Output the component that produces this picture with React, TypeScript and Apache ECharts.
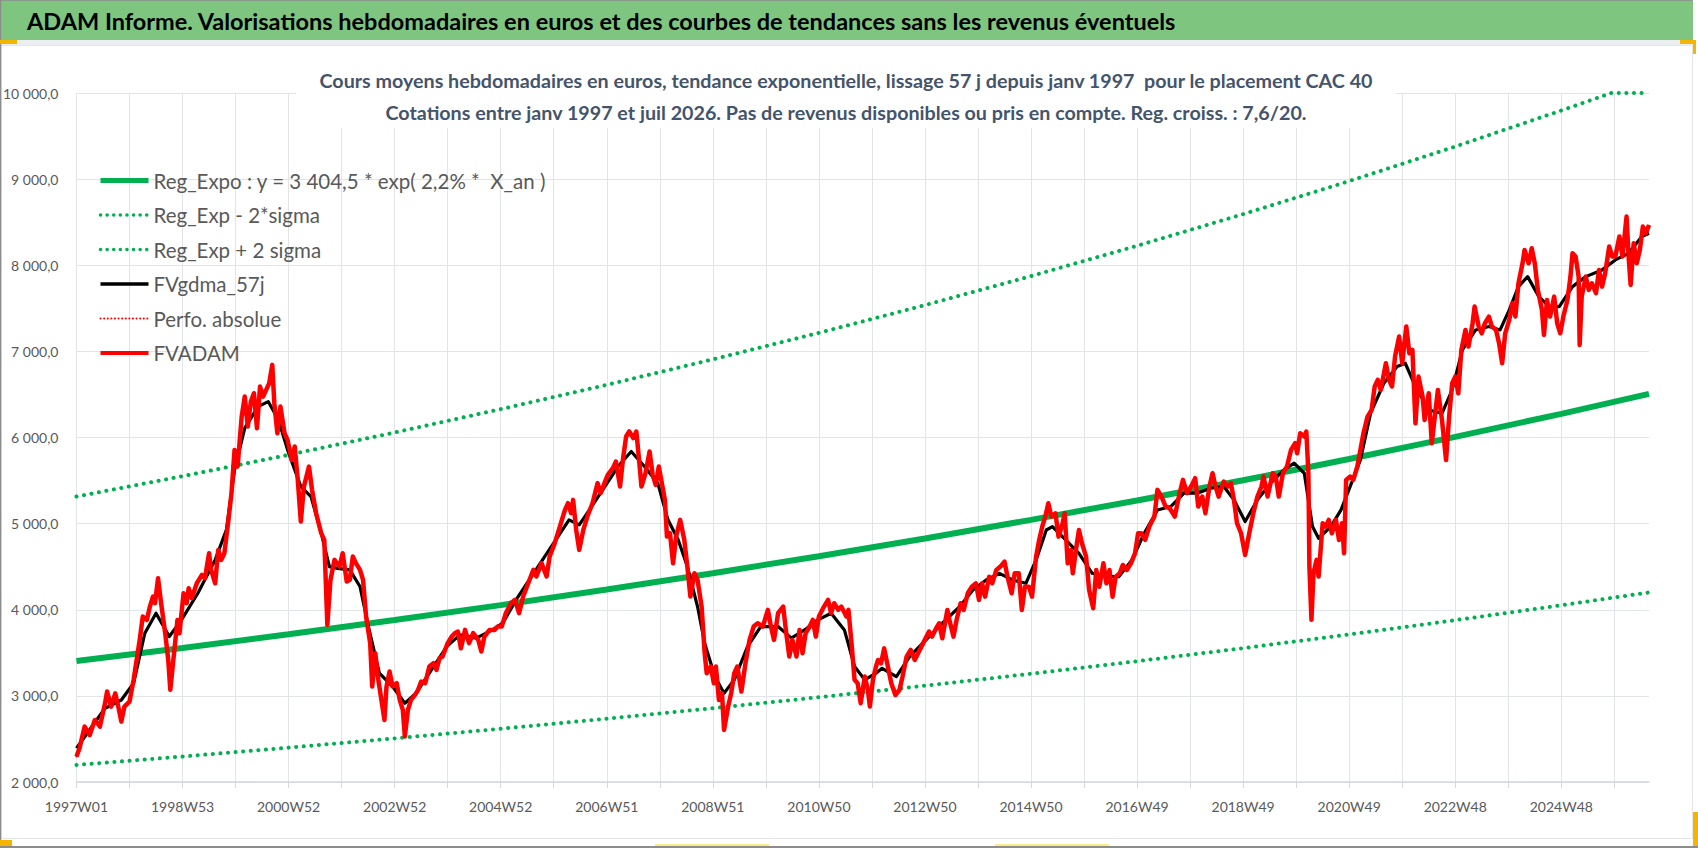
import React, { useEffect, useRef } from "react";
import * as echarts from "echarts";

// week index (0 = 1997W01) and value
const fvadam: [number, number][] = [
  [0, 2295], [3, 2392], [8, 2643], [13, 2546], [18, 2720], [23, 2643], [28, 2914], [30, 3050], [34, 2875], [38, 3030],
  [41, 2875], [44, 2701], [47, 2875], [52, 2933], [56, 3185], [59, 3418], [62, 3650], [65, 3921], [69, 3882], [72, 4037],
  [75, 4153], [77, 4076], [80, 4366], [83, 4076], [87, 3727], [90, 3418], [92, 3070], [96, 3534], [99, 3882], [101, 3727],
  [105, 4192], [108, 4076], [110, 4250], [113, 4134], [118, 4308], [123, 4405], [126, 4366], [130, 4656], [132, 4463], [136, 4308],
  [139, 4695], [142, 4579], [145, 4656], [149, 5043], [152, 5353], [155, 5856], [158, 5662], [162, 6243], [165, 6475], [168, 6127],
  [171, 6417], [174, 6514], [177, 6108], [180, 6591], [183, 6475], [186, 6553], [189, 6630], [192, 6843], [194, 6398], [197, 6050],
  [200, 6359], [204, 6050], [207, 5972], [211, 5740], [214, 5895], [217, 5508], [220, 5024], [223, 5430], [228, 5662], [231, 5392],
  [235, 5121], [240, 4889], [243, 4811], [246, 3824], [249, 4340], [253, 4579], [258, 4502], [261, 4657], [265, 4328], [268, 4347],
  [271, 4618], [274, 4541], [278, 4463], [281, 4347], [284, 3921], [288, 3612], [290, 3108], [293, 3495], [296, 3186], [299, 2953],
  [302, 2721], [304, 3108], [307, 3283], [310, 3108], [314, 3147], [317, 2953], [320, 2837], [322, 2528], [325, 2837], [328, 2953],
  [332, 3012], [335, 3070], [338, 3167], [342, 3147], [346, 3341], [350, 3379], [353, 3302], [356, 3437], [359, 3457], [364, 3612],
  [368, 3689], [371, 3728], [374, 3747], [377, 3553], [381, 3766], [385, 3612], [389, 3728], [394, 3650], [397, 3515], [400, 3689],
  [405, 3766], [410, 3766], [413, 3805], [417, 3805], [421, 3960], [426, 4076], [430, 4115], [434, 3960], [438, 4154], [443, 4308],
  [448, 4463], [451, 4386], [456, 4541], [461, 4386], [464, 4618], [469, 4773], [474, 4966], [479, 5160], [482, 5237], [485, 5121],
  [487, 5276], [490, 4928], [493, 4695], [497, 4928], [501, 5083], [506, 5237], [511, 5470], [514, 5354], [519, 5508], [521, 5566],
  [526, 5644], [529, 5721], [533, 5431], [536, 5760], [539, 6012], [542, 6070], [546, 5992], [549, 6070], [552, 5702], [554, 5431],
  [558, 5586], [562, 5837], [565, 5566], [568, 5450], [571, 5663], [574, 5470], [577, 5276], [579, 4850], [582, 4889], [585, 4541],
  [588, 4850], [592, 5044], [596, 4812], [599, 4502], [602, 4153], [606, 4424], [609, 4347], [613, 4037], [616, 3495], [618, 3263],
  [622, 3341], [625, 3147], [627, 3341], [630, 2953], [633, 3031], [635, 2605], [639, 2876], [642, 3031], [645, 3263], [648, 3341],
  [652, 3050], [656, 3379], [660, 3650], [664, 3805], [668, 3844], [673, 3805], [678, 3999], [681, 3805], [684, 3650], [688, 3960],
  [693, 4037], [696, 3728], [699, 3457], [702, 3650], [706, 3457], [709, 3766], [712, 3495], [715, 3728], [719, 3805], [722, 3883],
  [725, 3689], [728, 3921], [733, 4037], [737, 4115], [740, 3960], [743, 4076], [747, 3999], [750, 4037], [755, 3921], [757, 3999],
  [760, 3612], [763, 3186], [766, 3147], [769, 2915], [773, 3225], [776, 3070], [778, 2876], [781, 3186], [784, 3341], [786, 3417],
  [789, 3378], [792, 3552], [795, 3378], [799, 3146], [803, 3010], [807, 3068], [810, 3223], [814, 3455], [818, 3533], [822, 3417],
  [826, 3513], [831, 3630], [836, 3746], [839, 3688], [843, 3785], [846, 3843], [849, 3668], [854, 3997], [856, 3881], [860, 3688],
  [863, 3881], [867, 4075], [870, 3997], [874, 4191], [878, 4268], [882, 4307], [885, 4114], [888, 4307], [891, 4152], [895, 4384],
  [898, 4307], [902, 4462], [906, 4501], [910, 4559], [913, 4384], [917, 4191], [920, 4423], [924, 4423], [927, 3997], [930, 4268],
  [934, 4268], [937, 4152], [941, 4617], [944, 4810], [947, 4965], [950, 5081], [953, 5236], [956, 5081], [960, 5120], [963, 4849],
  [967, 5004], [969, 5120], [972, 4539], [975, 4694], [977, 4423], [981, 4772], [983, 4926], [986, 4772], [990, 4617], [993, 4230],
  [997, 4017], [1000, 4462], [1003, 4268], [1007, 4539], [1010, 4307], [1013, 4462], [1016, 4152], [1019, 4384], [1023, 4423], [1026, 4520],
  [1030, 4462], [1034, 4539], [1038, 4655], [1041, 4888], [1044, 4888], [1048, 4811], [1052, 4966], [1057, 5082], [1060, 5392], [1064, 5314],
  [1068, 5198], [1072, 5179], [1077, 5082], [1081, 5314], [1085, 5508], [1089, 5353], [1093, 5431], [1097, 5528], [1100, 5198], [1104, 5314],
  [1107, 5121], [1111, 5431], [1114, 5585], [1117, 5431], [1120, 5314], [1125, 5489], [1129, 5431], [1132, 5469], [1135, 5276], [1138, 5005],
  [1142, 4888], [1146, 4637], [1150, 4888], [1154, 5121], [1158, 5314], [1162, 5431], [1164, 5547], [1168, 5314], [1173, 5585], [1176, 5547],
  [1179, 5314], [1183, 5585], [1187, 5663], [1191, 5856], [1195, 5934], [1197, 5817], [1200, 6050], [1204, 6011], [1206, 6069], [1208, 5585],
  [1209, 4502], [1211, 3883], [1213, 4424], [1216, 4579], [1218, 4385], [1222, 5005], [1225, 4966], [1228, 5043], [1231, 4888], [1235, 5043],
  [1238, 4811], [1241, 5005], [1243, 4656], [1245, 5508], [1249, 5547], [1252, 5508], [1256, 5663], [1259, 5856], [1262, 6050], [1266, 6243],
  [1270, 6321], [1273, 6592], [1276, 6669], [1279, 6553], [1284, 6863], [1287, 6669], [1290, 6592], [1293, 6940], [1297, 7172], [1300, 6863],
  [1304, 7288], [1307, 6978], [1310, 7017], [1313, 6165], [1316, 6707], [1320, 6475], [1322, 6204], [1326, 6514], [1329, 5933], [1332, 6243],
  [1335, 6552], [1339, 6204], [1343, 5739], [1346, 6243], [1349, 6630], [1352, 6707], [1355, 6514], [1358, 7017], [1362, 7249], [1365, 7056],
  [1369, 7326], [1371, 7520], [1375, 7288], [1378, 7210], [1381, 7326], [1385, 7404], [1388, 7288], [1392, 7249], [1395, 7094], [1398, 6862],
  [1401, 7210], [1405, 7365], [1408, 7559], [1411, 7404], [1414, 7791], [1418, 8023], [1420, 8178], [1424, 8023], [1427, 8197], [1430, 8023],
  [1433, 7714], [1437, 7481], [1439, 7191], [1442, 7597], [1445, 7404], [1449, 7636], [1452, 7326], [1455, 7210], [1458, 7404], [1462, 7597],
  [1465, 7868], [1467, 8139], [1470, 8101], [1473, 7868], [1474, 7075], [1476, 7636], [1480, 7868], [1483, 7714], [1486, 7791], [1490, 7675],
  [1493, 7946], [1496, 7752], [1499, 7907], [1503, 8217], [1506, 8101], [1509, 8101], [1513, 8333], [1516, 8101], [1520, 8565], [1522, 8101],
  [1524, 7772], [1527, 8256], [1530, 8023], [1533, 8178], [1536, 8449], [1539, 8372], [1542, 8468],
];

const fvgdma: [number, number][] = [
  [0, 2392], [28, 2856], [44, 2952], [56, 3146], [67, 3727], [78, 3960], [91, 3689], [103, 3882], [119, 4192], [136, 4579],
  [147, 4927], [155, 5624], [165, 6108], [178, 6359], [188, 6417], [198, 6205], [207, 5856], [220, 5430], [230, 5314], [240, 4889],
  [248, 4501], [256, 4480], [268, 4463], [278, 4270], [287, 3766], [297, 3263], [310, 3108], [322, 2915], [333, 3031], [346, 3263],
  [363, 3573], [376, 3708], [392, 3670], [408, 3766], [418, 3844], [431, 4115], [444, 4347], [457, 4579], [470, 4812], [483, 5044],
  [493, 4986], [503, 5160], [516, 5392], [531, 5663], [544, 5837], [557, 5663], [570, 5470], [580, 5044], [590, 4812], [599, 4502],
  [609, 4037], [616, 3612], [626, 3225], [635, 3031], [645, 3186], [658, 3573], [671, 3805], [688, 3805], [701, 3670], [714, 3766],
  [727, 3883], [740, 3960], [753, 3766], [763, 3341], [773, 3186], [784, 3263], [790, 3320], [804, 3223], [817, 3455], [833, 3649],
  [849, 3843], [866, 4036], [879, 4230], [892, 4346], [905, 4423], [918, 4346], [931, 4307], [941, 4578], [951, 4926], [957, 4965],
  [970, 4810], [983, 4655], [996, 4423], [1009, 4384], [1022, 4384], [1035, 4578], [1047, 4888], [1060, 5159], [1073, 5198], [1086, 5353],
  [1099, 5353], [1112, 5411], [1125, 5431], [1135, 5276], [1146, 5024], [1158, 5276], [1171, 5469], [1184, 5624], [1194, 5702], [1204, 5585],
  [1212, 4966], [1218, 4830], [1230, 4966], [1240, 5159], [1249, 5431], [1259, 5740], [1269, 6282], [1282, 6630], [1295, 6824], [1303, 6862],
  [1313, 6591], [1326, 6320], [1339, 6281], [1349, 6552], [1359, 7017], [1372, 7249], [1385, 7288], [1396, 7249], [1405, 7481], [1414, 7752],
  [1423, 7868], [1434, 7636], [1444, 7520], [1454, 7520], [1467, 7752], [1480, 7868], [1496, 7946], [1509, 8062], [1522, 8139], [1535, 8333],
  [1542, 8372],
];

const regExpo: [number, number][] = [
  [0, 3405], [104, 3557], [208, 3715], [312, 3881], [416, 4054], [520, 4235], [624, 4424], [728, 4622],
  [832, 4828], [936, 5044], [1040, 5269], [1144, 5504], [1248, 5750], [1352, 6007], [1456, 6275], [1542, 6506],
];

const regMinus: [number, number][] = [
  [0, 2198], [104, 2296], [208, 2399], [312, 2506], [416, 2618], [520, 2735], [624, 2857], [728, 2984],
  [832, 3118], [936, 3257], [1040, 3402], [1144, 3554], [1248, 3713], [1352, 3879], [1456, 4052], [1542, 4201],
];

const regPlus: [number, number][] = [
  [0, 5314], [104, 5551], [208, 5799], [312, 6058], [416, 6329], [520, 6611], [624, 6907], [728, 7215],
  [832, 7537], [936, 7874], [1040, 8226], [1144, 8593], [1248, 8977], [1352, 9378], [1456, 9797], [1505, 10000], [1542, 10000],
];

const seriesNames = [
  "Reg_Expo : y = 3 404,5 * exp( 2,2% *  X_an )",
  "Reg_Exp - 2*sigma",
  "Reg_Exp + 2 sigma",
  "FVgdma_57j",
  "Perfo. absolue",
  "FVADAM",
];

const headerTitle =
  "ADAM Informe. Valorisations hebdomadaires en euros et des courbes de tendances sans les revenus éventuels";
const chartTitle = [
  "Cours moyens hebdomadaires en euros, tendance exponentielle, lissage 57 j depuis janv 1997  pour le placement CAC 40",
  "Cotations entre janv 1997 et juil 2026. Pas de revenus disponibles ou pris en compte. Reg. croiss. : 7,6/20.",
];

const DAY = 86400000;
const weekLabel = (i: number) => {
  const d = new Date(Date.UTC(1997, 0, 1) + i * 7 * DAY);
  const day = (d.getUTCDay() + 6) % 7;
  d.setUTCDate(d.getUTCDate() - day + 3);
  const year = d.getUTCFullYear();
  const jan4 = new Date(Date.UTC(year, 0, 4));
  const w = 1 + Math.round(((d.getTime() - jan4.getTime()) / DAY - 3 + ((jan4.getUTCDay() + 6) % 7)) / 7);
  return `${year}W${String(w).padStart(2, "0")}`;
};

const yLabel = (v: number) =>
  String(Math.round(v)).replace(/\B(?=(\d{3})+(?!\d))/g, " ") + ",0";

const FONT = "Lato, 'Noto Sans', sans-serif";
const GREEN = "#00b050";
const RED = "#ff0000";

const dotted = (color: string, width: number, gap: number) => ({
  color,
  width,
  type: [0.1, gap],
  cap: "round" as const,
});

const lineStyles = [
  { color: GREEN, width: 6 },
  dotted(GREEN, 4, 7.5),
  dotted(GREEN, 4, 7.5),
  { color: "#000000", width: 3.2, join: "round" as const },
  dotted(RED, 2, 4),
  { color: RED, width: 4.5, join: "round" as const },
];

const legendStyles = [
  { color: GREEN, width: 5 },
  dotted(GREEN, 3.5, 6.5),
  dotted(GREEN, 3.5, 6.5),
  { color: "#000000", width: 3.5 },
  dotted(RED, 2, 3.5),
  { color: RED, width: 4 },
];

const App: React.FC = () => {
  const chartRef = useRef<HTMLDivElement>(null);

  useEffect(() => {
    document.body.style.margin = "0";
    if (!chartRef.current) return;
    const chart = echarts.init(chartRef.current, null, { renderer: "svg" });

    const seriesData = [regExpo, regMinus, regPlus, fvgdma, fvadam, fvadam];

    const option: echarts.EChartsOption = {
      animation: false,
      backgroundColor: "#ffffff",
      textStyle: { fontFamily: FONT },
      grid: { left: 75, right: 49, top: 93, bottom: 66 },
      legend: {
        data: seriesNames.map((name, i) => ({
          name,
          itemStyle: { opacity: 0, borderWidth: 0 },
          lineStyle: legendStyles[i],
        })),
        orient: "vertical",
        left: 98,
        top: 170,
        padding: 0,
        itemWidth: 48,
        itemHeight: 14,
        itemGap: 13.5,
        selectedMode: false,
        textStyle: { color: "#595959", fontSize: 20.5, fontFamily: FONT, lineHeight: 21 },
      },
      xAxis: {
        type: "value",
        min: 0,
        max: 1542,
        interval: 52,
        axisLine: { show: true, lineStyle: { color: "#d4d7dc", width: 1.5 } },
        axisTick: { show: true, length: 6, lineStyle: { color: "#d4d7dc" } },
        splitLine: { show: true, showMaxLine: false, lineStyle: { color: "#e1e4e9", width: 1 } },
        axisLabel: {
          color: "#595959",
          fontSize: 14,
          fontFamily: FONT,
          margin: 17,
          showMaxLabel: false,
          formatter: (v: number) => (v % 104 === 0 ? weekLabel(v) : ""),
        },
      },
      yAxis: {
        type: "value",
        min: 2000,
        max: 10000,
        interval: 1000,
        axisLine: { show: false },
        axisTick: { show: false },
        splitLine: { lineStyle: { color: "#e1e4e9", width: 1 } },
        axisLabel: { color: "#595959", fontSize: 14, fontFamily: FONT, margin: 18, formatter: yLabel },
      },
      graphic: [
        { type: "rect", shape: { x: 0, y: 0, width: 1693, height: 40 }, style: { fill: "#7ec67f" }, z: 10 },
        { type: "rect", shape: { x: 0, y: 40, width: 1693, height: 5 }, style: { fill: "#eceef1" }, z: 10 },
        { type: "line", shape: { x1: 0, y1: 0.5, x2: 1693, y2: 0.5 }, style: { stroke: "#8a9a8a", lineWidth: 1 }, z: 11 },
        {
          type: "rect",
          shape: { x: 1.5, y: 45.5, width: 1691, height: 793 },
          style: { fill: "none", stroke: "#e3e5e8", lineWidth: 1 },
          z: 10,
        },
        { type: "line", shape: { x1: 0.5, y1: 0, x2: 0.5, y2: 848 }, style: { stroke: "#8c8c8c", lineWidth: 1.5 }, z: 11 },
        { type: "line", shape: { x1: 0, y1: 847, x2: 1698, y2: 847 }, style: { stroke: "#8c8c8c", lineWidth: 2 }, z: 11 },
        { type: "rect", shape: { x: 0, y: 40, width: 17, height: 4 }, style: { fill: "#f5b400" }, z: 12 },
        { type: "rect", shape: { x: 1680, y: 40, width: 16, height: 4 }, style: { fill: "#f5b400" }, z: 12 },
        { type: "rect", shape: { x: 1693, y: 40, width: 3, height: 14 }, style: { fill: "#f5b400" }, z: 12 },
        { type: "rect", shape: { x: 0, y: 840, width: 12, height: 6 }, style: { fill: "#f5b400" }, z: 12 },
        { type: "rect", shape: { x: 1693, y: 812, width: 5, height: 34 }, style: { fill: "#f5b400" }, z: 12 },
        { type: "rect", shape: { x: 655, y: 844, width: 114, height: 2 }, style: { fill: "#fbe98a" }, z: 12 },
        { type: "rect", shape: { x: 995, y: 844, width: 114, height: 2 }, style: { fill: "#fbe98a" }, z: 12 },
        {
          type: "text",
          x: 27,
          y: 21,
          z: 12,
          style: {
            text: headerTitle,
            font: `bold 23.5px ${FONT}`,
            fill: "#000000",
            textVerticalAlign: "middle",
          },
        },
        { type: "rect", shape: { x: 296, y: 62, width: 1100, height: 66 }, style: { fill: "#ffffff" }, z: 20 },
        ...chartTitle.map((text, i) => ({
          type: "text" as const,
          x: 846,
          y: 80 + i * 32,
          z: 21,
          style: {
            text,
            font: `bold 19.7px ${FONT}`,
            fill: "#44546a",
            textAlign: "center" as const,
            textVerticalAlign: "middle" as const,
          },
        })),
      ],
      series: seriesNames.map((name, i) => ({
        name,
        type: "line" as const,
        data: seriesData[i],
        symbol: "none",
        itemStyle: { color: lineStyles[i].color },
        lineStyle: lineStyles[i],
      })),
    };

    chart.setOption(option);
    return () => {
      chart.dispose();
    };
  }, []);

  return <div ref={chartRef} style={{ width: 1698, height: 848 }} />;
};

export default App;
